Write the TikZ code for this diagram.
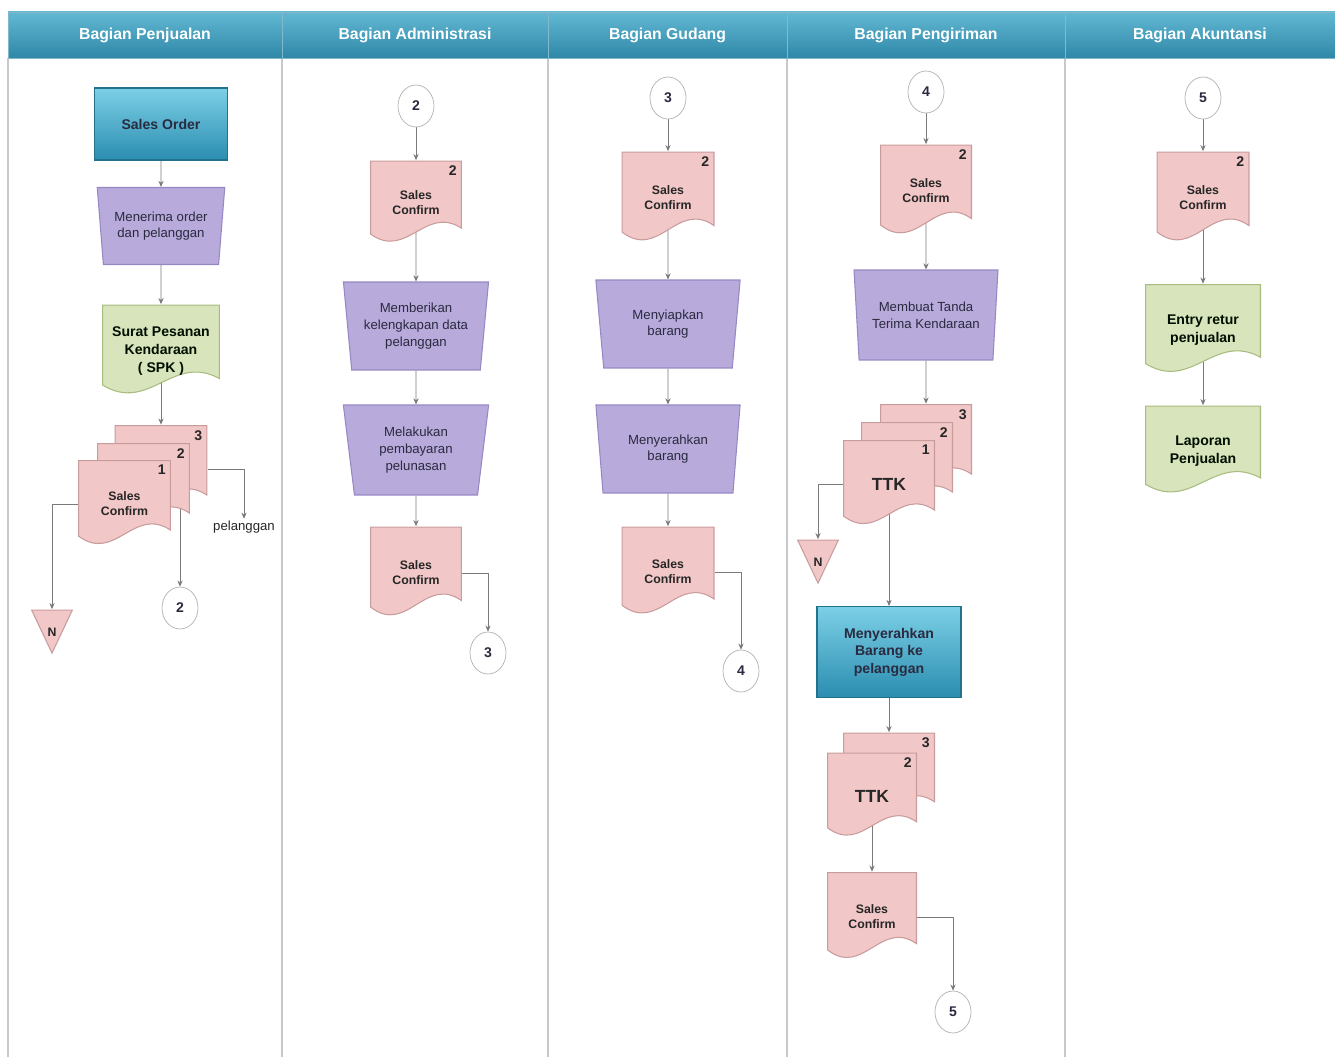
\documentclass[tikz,border=0pt]{standalone}
\usepackage{fontspec}
\setmainfont{Liberation Sans}
\usepackage{tikz}
\usetikzlibrary{shapes.geometric, arrows.meta, positioning, calc, backgrounds}
\definecolor{HeadTop}{HTML}{62B8D3}
\definecolor{HeadBot}{HTML}{2F88A8}
\definecolor{ProcTop}{HTML}{7CD0E6}
\definecolor{ProcBot}{HTML}{2B8DB0}
\definecolor{DocPink}{HTML}{F2C7C7}
\definecolor{DocPinkLine}{HTML}{C99C9C}
\definecolor{ManPurple}{HTML}{B8AADB}
\definecolor{ManPurpleLine}{HTML}{9788C4}
\definecolor{DocGreen}{HTML}{D8E4BC}
\definecolor{DocGreenLine}{HTML}{A8BC7E}
\definecolor{FlowGray}{HTML}{7A7A7A}
\definecolor{LaneGray}{HTML}{C8C8C8}
\definecolor{TextDark}{HTML}{2A2A40}
\tikzset{
    % Swim lane header cells
    lanehead/.style={
        rectangle,
        top color=HeadTop,
        bottom color=HeadBot,
        draw=HeadBot!60!white,
        minimum height=0.92cm,
        text=white,
        font=\fontsize{9}{11}\selectfont\bfseries
    },
    laneline/.style={
        draw=LaneGray,
        line width=0.8pt
    },
    % Document with wavy bottom
    wavedoc/.style 2 args={
        rectangle,
        draw=none,
        inner sep=1pt,
        align=center,
        path picture={
            \path[fill=#1, draw=#2, line width=0.6pt]
                let \p1=([shift={(0.3pt,0.3pt)}]path picture bounding box.south west),
                    \p2=([shift={(-0.3pt,-0.3pt)}]path picture bounding box.north east)
                in (\x1,\y2) -- (\x2,\y2) -- (\x2,{\y1+0.2*(\y2-\y1)})
                .. controls ({\x1+0.6*(\x2-\x1)},{\y1+0.48*(\y2-\y1)}) and ({\x1+0.4*(\x2-\x1)},{\y1-0.18*(\y2-\y1)})
                .. (\x1,{\y1+0.13*(\y2-\y1)}) -- cycle;
        }
    },
    pinkdoc/.style={
        wavedoc={DocPink}{DocPinkLine},
        text=black!85,
        font=\fontsize{7}{8.5}\selectfont\bfseries
    },
    greendoc/.style={
        wavedoc={DocGreen}{DocGreenLine},
        text=black!85!green!40!black,
        font=\fontsize{8}{10}\selectfont\bfseries
    },
    docnum/.style={
        anchor=north east,
        inner sep=3pt,
        text=black!85,
        font=\fontsize{8}{9}\selectfont\bfseries
    },
    % Manual operation
    manualop/.style={
        trapezium,
        trapezium stretches=true,
        shape border rotate=180,
        trapezium left angle=82,
        trapezium right angle=82,
        fill=ManPurple,
        draw=ManPurpleLine,
        line width=0.6pt,
        inner sep=1pt,
        minimum width=2.92cm,
        minimum height=1.76cm,
        align=center,
        text=TextDark,
        font=\fontsize{7.5}{9.5}\selectfont
    },
    procbox/.style={
        rectangle,
        top color=ProcTop,
        bottom color=ProcBot,
        draw=ProcBot!80!black,
        line width=0.6pt,
        align=center,
        text=TextDark,
        font=\fontsize{8}{10}\selectfont\bfseries
    },
    pageconn/.style={
        ellipse,
        draw=gray!60,
        fill=white,
        minimum width=0.72cm,
        minimum height=0.84cm,
        inner sep=0pt,
        text=TextDark,
        font=\fontsize{8}{9}\selectfont\bfseries
    },
    offline/.style={
        rectangle,
        minimum width=0.84cm,
        minimum height=0.9cm,
        inner sep=0pt,
        text=black!85,
        font=\fontsize{7}{8}\selectfont\bfseries,
        path picture={
            \path[fill=DocPink, draw=DocPinkLine, line width=0.6pt]
                ([shift={(0.4pt,-0.4pt)}]path picture bounding box.north west)
                -- ([shift={(-0.4pt,-0.4pt)}]path picture bounding box.north east)
                -- ([yshift=0.8pt]path picture bounding box.south) -- cycle;
        }
    },
    outlabel/.style={
        inner sep=1pt,
        text=black!85,
        font=\fontsize{7.5}{9}\selectfont
    },
    % Arrow style
    flow/.style={
        ->,
        >={Stealth[length=3.5pt,width=3pt]},
        draw=FlowGray,
        line width=0.5pt
    }
}

\begin{document}
\begin{tikzpicture}[x=0.02cm, y=-0.02cm]
    \useasboundingbox (0,0) rectangle (1335,1057);

    % Lane borders
    \foreach \lx in {8,282,548,787,1065}
        \draw[laneline] (\lx,58) -- (\lx,1057);

    % Lane headers
    \node[lanehead, minimum width=5.48cm] (hdJual) at (145,35) {Bagian Penjualan};
    \node[lanehead, minimum width=5.32cm] (hdAdm) at (415,35) {Bagian Administrasi};
    \node[lanehead, minimum width=4.78cm] (hdGud) at (667.5,35) {Bagian Gudang};
    \node[lanehead, minimum width=5.56cm] (hdKirim) at (926,35) {Bagian Pengiriman};
    \node[lanehead, minimum width=5.40cm] (hdAkun) at (1200,35) {Bagian Akuntansi};

    % Bagian Penjualan
    \node[procbox, minimum width=2.66cm, minimum height=1.44cm] (salesorder) at (161,124) {Sales Order};
    \node[manualop, minimum width=2.56cm, minimum height=1.54cm, trapezium left angle=81, trapezium right angle=81] (terima) at (161,226) {Menerima order\\dan pelanggan};
    \node[greendoc, minimum width=2.36cm, minimum height=1.86cm] (spk) at (161,351) {Surat Pesanan\\Kendaraan\\( SPK )};
    \node[pinkdoc, minimum width=1.86cm, minimum height=1.76cm, label={[docnum]north east:3}] (scJual3) at (161,469) {};
    \node[pinkdoc, minimum width=1.86cm, minimum height=1.76cm, label={[docnum]north east:2}] (scJual2) at (143.5,487) {};
    \node[pinkdoc, minimum width=1.86cm, minimum height=1.76cm, label={[docnum]north east:1}] (scJual1) at (124.5,504) {Sales\\Confirm};
    \node[outlabel] (pelanggan) at (244,527) {pelanggan};
    \node[offline] (nJual) at (52,632) {N};
    \node[pageconn] (cJual2) at (180,608) {2};

    % Bagian Administrasi
    \node[pageconn] (cAdm2) at (416,106) {2};
    \node[pinkdoc, minimum width=1.84cm, minimum height=1.7cm, label={[docnum]north east:2}] (scAdm) at (416,203) {Sales\\Confirm};
    \node[manualop] (lengkapi) at (416,326) {Memberikan\\kelengkapan data\\pelanggan};
    \node[manualop, minimum height=1.8cm] (lunasi) at (416,450) {Melakukan\\pembayaran\\pelunasan};
    \node[pinkdoc, minimum width=1.84cm, minimum height=1.86cm] (scAdm2) at (416,573) {Sales\\Confirm};
    \node[pageconn] (cAdm3) at (488,653) {3};

    % Bagian Gudang
    \node[pageconn] (cGud3) at (668,98) {3};
    \node[pinkdoc, minimum width=1.86cm, minimum height=1.86cm, label={[docnum]north east:2}] (scGud) at (668,198) {Sales\\Confirm};
    \node[manualop, minimum width=2.9cm] (siapkan) at (668,324) {Menyiapkan\\barang};
    \node[manualop, minimum width=2.9cm] (serahkan) at (668,449) {Menyerahkan\\barang};
    \node[pinkdoc, minimum width=1.86cm, minimum height=1.82cm] (scGud2) at (668,572) {Sales\\Confirm};
    \node[pageconn] (cGud4) at (741,671) {4};

    % Bagian Pengiriman
    \node[pageconn] (cKirim4) at (926,92) {4};
    \node[pinkdoc, minimum width=1.84cm, minimum height=1.86cm, label={[docnum]north east:2}] (scKirim) at (926,191) {Sales\\Confirm};
    \node[manualop, minimum width=2.9cm, minimum height=1.8cm] (buatTTK) at (926,315) {Membuat Tanda\\Terima Kendaraan};
    \node[pinkdoc, minimum width=1.84cm, minimum height=1.76cm, label={[docnum]north east:3}] (ttkA3) at (926,448) {};
    \node[pinkdoc, minimum width=1.84cm, minimum height=1.76cm, label={[docnum]north east:2}] (ttkA2) at (907,466) {};
    \node[pinkdoc, minimum width=1.84cm, minimum height=1.76cm, label={[docnum]north east:1}, font=\fontsize{10}{12}\selectfont\bfseries] (ttkA1) at (889,484) {TTK};
    \node[offline] (nKirim) at (818,562) {N};
    \node[procbox, minimum width=2.88cm, minimum height=1.82cm] (kirimBarang) at (889,652) {Menyerahkan\\Barang ke\\pelanggan};
    \node[pinkdoc, minimum width=1.84cm, minimum height=1.74cm, label={[docnum]north east:3}] (ttkB3) at (889,776) {};
    \node[pinkdoc, minimum width=1.80cm, minimum height=1.74cm, label={[docnum]north east:2}, font=\fontsize{10}{12}\selectfont\bfseries] (ttkB2) at (872,796) {TTK};
    \node[pinkdoc, minimum width=1.80cm, minimum height=1.8cm] (scKirim2) at (872,917) {Sales\\Confirm};
    \node[pageconn] (cKirim5) at (953,1012) {5};

    % Bagian Akuntansi
    \node[pageconn] (cAkun5) at (1203,98) {5};
    \node[pinkdoc, minimum width=1.86cm, minimum height=1.86cm, label={[docnum]north east:2}] (scAkun) at (1203,198) {Sales\\Confirm};
    \node[greendoc, minimum width=2.32cm, minimum height=1.84cm] (retur) at (1203,330) {Entry retur\\penjualan};
    \node[greendoc, minimum width=2.32cm, minimum height=1.82cm] (laporan) at (1203,451) {Laporan\\Penjualan};

    % Arrows
    \begin{scope}[on background layer]
        \draw[flow] (salesorder) -- (terima);
        \draw[flow] (terima) -- (spk);
        \draw[flow] (spk.center) -- (scJual3);
        \draw[flow] (scJual3.east) -| (pelanggan.north);
        \draw[flow] (scJual1.west) -| (nJual.north);
        \draw[flow] (scJual2.center -| cJual2.north) -- (cJual2);

        \draw[flow] (cAdm2) -- (scAdm);
        \draw[flow] (scAdm.center) -- (lengkapi);
        \draw[flow] (lengkapi) -- (lunasi);
        \draw[flow] (lunasi) -- (scAdm2);
        \draw[flow] (scAdm2.east) -| (cAdm3);

        \draw[flow] (cGud3) -- (scGud);
        \draw[flow] (scGud.center) -- (siapkan);
        \draw[flow] (siapkan) -- (serahkan);
        \draw[flow] (serahkan) -- (scGud2);
        \draw[flow] (scGud2.east) -| (cGud4);

        \draw[flow] (cKirim4) -- (scKirim);
        \draw[flow] (scKirim.center) -- (buatTTK);
        \draw[flow] (buatTTK) -- (ttkA3);
        \draw[flow] (ttkA1.west) -| (nKirim.north);
        \draw[flow] (ttkA1.center) -- (kirimBarang);
        \draw[flow] (kirimBarang) -- (ttkB3);
        \draw[flow] (ttkB2.center) -- (scKirim2);
        \draw[flow] (scKirim2.east) -| (cKirim5);

        \draw[flow] (cAkun5) -- (scAkun);
        \draw[flow] (scAkun.center) -- (retur);
        \draw[flow] (retur.center) -- (laporan);
    \end{scope}
\end{tikzpicture}
\end{document}
